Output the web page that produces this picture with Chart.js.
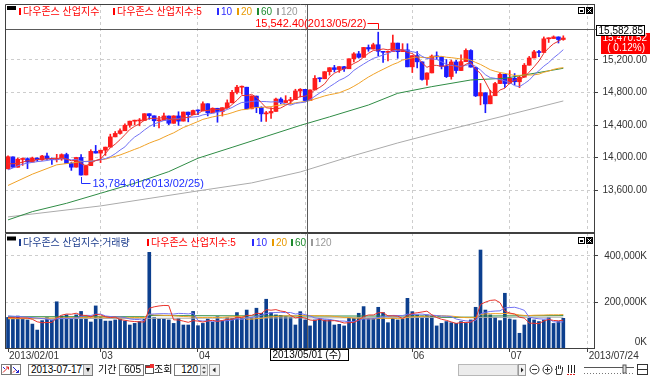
<!DOCTYPE html>
<html>
<head>
<meta charset="utf-8">
<script src="https://cdn.jsdelivr.net/npm/chart.js@4.4.1/dist/chart.umd.min.js"></script>
<style>
body { margin: 0; width: 650px; height: 376px; overflow: hidden; position: relative; background: #fff; }
canvas { position: absolute; left: 0; }
#price { top: 0; }
#volume { top: 233px; }
.ic { position: absolute; top: 364px; }
.fld { position: absolute; top: 364px; height: 10px; border: 1px solid #7a7a7a; background: #fff;
       font: 10px 'Liberation Sans'; line-height: 10px; color: #000; box-sizing: content-box; }
.dd { position: absolute; right: 0; top: 0; width: 8px; height: 10px; background: #e2e2e2; border-left: 1px solid #a0a0a0;
      font-size: 7px; line-height: 10px; text-align: center; }
.lbl { position: absolute; top: 363px; font: 10px 'Noto Sans CJK KR'; line-height: 12px; color: #000; }
</style>
</head>
<body>
<canvas id="price" width="650" height="234"></canvas>
<canvas id="volume" width="650" height="129"></canvas>

<!-- bottom toolbar -->
<svg class="ic" style="left:1px" width="10" height="11"><rect x="0.5" y="0.5" width="9" height="10" fill="#fff" stroke="#7a7a7a"/><path d="M2 8.5L7.5 3M5 3h2.5v2.5" stroke="#d22" fill="none"/><path d="M2 3l2 2" stroke="#22c" fill="none"/></svg>
<svg class="ic" style="left:11px" width="10" height="11"><rect x="0.5" y="0.5" width="9" height="10" fill="#fff" stroke="#7a7a7a"/><path d="M2 3l5.5 5.5M5 8.5h2.5V6" stroke="#22c" fill="none"/><path d="M2 8.5l2-2" stroke="#d22" fill="none"/></svg>
<div class="fld" style="left:28px;width:61px;padding-left:2px">2013-07-17<span class="dd">▼</span></div>
<span class="lbl" style="left:98px">기간</span>
<div class="fld" style="left:119px;width:21px;padding-right:2px;text-align:right">605</div>
<svg class="ic" style="left:145px" width="9" height="11"><rect x="0.5" y="1.5" width="8" height="8" fill="#fff" stroke="#555"/><rect x="1" y="2" width="7" height="2" fill="#c22"/><rect x="5" y="0" width="4" height="4" fill="#e33"/></svg>
<span class="lbl" style="left:154px">조회</span>
<div class="fld" style="left:174px;width:23px;padding-right:2px;text-align:right">120</div>
<svg class="ic" style="left:200px" width="8" height="12"><rect x="0.5" y="0.5" width="7" height="11" fill="#eee" stroke="#aaa"/><path d="M2 4.5h4L4 2.5z M2 7.5h4L4 9.5z" fill="#333"/></svg>
<svg class="ic" style="left:209px" width="11" height="12"><rect x="0.5" y="0.5" width="10" height="11" fill="#f2f2f2" stroke="#999"/><path d="M6.5 3.5v5L3.5 6z" fill="#222"/></svg>
<div class="fld" style="left:458px;width:58px;background:#ececec;border-color:#b8b8b8"></div>
<svg class="ic" style="left:518px" width="8" height="12"><rect x="0.5" y="0.5" width="7" height="11" fill="#f2f2f2" stroke="#999"/><path d="M3 3.5v5L5.5 6z" fill="#222"/></svg>
<svg class="ic" style="left:529px" width="11" height="11"><circle cx="5.5" cy="5.5" r="4.5" fill="#fff" stroke="#333"/><path d="M3 5.5h5" stroke="#333"/></svg>
<svg class="ic" style="left:542px" width="11" height="11"><circle cx="5.5" cy="5.5" r="4.5" fill="#fff" stroke="#333"/><path d="M3 5.5h5M5.5 3v5" stroke="#333"/></svg>
<svg class="ic" style="left:554px" width="10" height="11"><path d="M2.5 10.5V5.5M2.5 5.5V2M4.5 5V1M6.5 5V1.5M8.5 6V3M2.5 6L1 5M2.5 10.5h5l1-4.5" stroke="#333" fill="none"/></svg>
<svg class="ic" style="left:566px" width="11" height="11"><path d="M2.5 1v8M5.5 1v8M8.5 1v8" stroke="#222"/><path d="M1 10.5h9" stroke="#d22" stroke-dasharray="2 1"/></svg>
<svg class="ic" style="left:583px" width="52" height="11"><path d="M1 3.5h50" stroke="#555"/><path d="M1 9.5h50" stroke="#777" stroke-dasharray="1 2"/><rect x="40" y="1" width="3" height="8" fill="#ddd" stroke="#555"/></svg>
<svg class="ic" style="left:637px" width="11" height="11"><rect x="0.5" y="0.5" width="10" height="10" fill="#fff" stroke="#333"/><path d="M1 5.5h9" stroke="#333"/></svg>

<script>
// ---- data (DJIA, 2013/02/01 .. 2013/07/17) ----
const opens = [
  13860.58, 14008, 13880, 13976, 13986, 13944, 13993, 13971, 14019, 13982,
  13973, 13982, 14036, 13927, 13881, 14001, 13785, 13900, 14075, 14054,
  14090, 14128, 14254, 14296, 14329, 14397, 14447, 14450, 14455, 14539,
  14513, 14452, 14456, 14511, 14421, 14512, 14448, 14559, 14527, 14578,
  14573, 14662, 14550, 14606, 14565, 14613, 14673, 14802, 14865, 14865,
  14599, 14756, 14618, 14537, 14548, 14567, 14719, 14676, 14700, 14712,
  14818, 14839, 14701, 14832, 14974, 14969, 15056, 15105, 15083, 15118,
  15092, 15215, 15276, 15233, 15354, 15335, 15388, 15306, 15294, 15304,
  15408, 15303, 15325, 15116, 15254, 15177, 14961, 15041, 15247, 15238,
  15122, 14996, 15176, 15070, 15180, 15317, 15110, 14758, 14797, 14661,
  14760, 14910, 15024, 14911, 14975, 14932, 14989, 15136, 15225, 15300,
  15292, 15461, 15464, 15484, 15452
];
const highs = [
  14019.78, 14008, 13993, 13995, 13996, 14005, 13996, 14027, 14054, 13995,
  14039, 14045, 14053, 13940, 14003, 14036, 13906, 14096, 14149, 14090,
  14128, 14287, 14320, 14354, 14414, 14448, 14460, 14480, 14539, 14539,
  14513, 14508, 14547, 14511, 14514, 14563, 14560, 14559, 14585, 14588,
  14685, 14662, 14611, 14606, 14613.48, 14709, 14826, 14888, 14880, 14865,
  14760, 14756, 14624, 14567, 14612, 14730, 14736, 14761, 14740, 14840,
  14848, 14839, 14832, 15009, 14981, 15057, 15106, 15134, 15118.49, 15121,
  15215.25, 15290, 15306, 15355, 15385, 15407, 15542.40, 15306, 15310, 15507,
  15408, 15401, 15400, 15254.03, 15304, 15177, 15042, 15262, 15300, 15238,
  15206, 15198, 15196, 15265, 15338, 15327, 15110, 14911, 14797, 14828,
  14925, 15040, 15024, 15070, 15033, 14998, 15157, 15244, 15319, 15319,
  15484, 15473, 15497, 15485, 15498
];
const lows = [
  13860.58, 13879, 13880, 13903, 13863, 13944, 13952, 13964, 13976, 13915,
  13945, 13965, 13924, 13841, 13881, 13784.01, 13785, 13900, 14054, 13937,
  14026, 14128, 14254, 14287, 14329, 14372, 14400, 14390, 14455, 14470,
  14382, 14364, 14456, 14404, 14421, 14395, 14448, 14439, 14527, 14528,
  14573, 14512, 14550, 14434, 14510, 14613, 14673, 14784, 14779, 14598,
  14599, 14552, 14444, 14444, 14480, 14567, 14660, 14676, 14659, 14712,
  14745, 14687, 14701, 14832, 14932, 14969, 15014, 15053, 15048, 15058,
  15092, 15175, 15223, 15233, 15307, 15334, 15252, 15170, 15190, 15304,
  15221, 15303, 15115.57, 15046, 15103, 14953, 14889, 15041, 15208, 15090,
  14984, 14964, 15037, 15070, 15180, 15112, 14750, 14648, 14551, 14661,
  14760, 14910, 14862, 14911, 14895, 14860, 14989, 15136, 15225, 15240,
  15292, 15416, 15464, 15409, 15443
];
const closes = [
  14009.79, 13880.08, 13979.30, 13986.52, 13944.05, 13992.97, 13971.24, 14018.70, 13982.91, 13973.39,
  13981.76, 14035.67, 13927.54, 13880.62, 14000.57, 13784.17, 13900.13, 14075.37, 14054.49, 14089.66,
  14127.82, 14253.77, 14296.24, 14329.49, 14397.07, 14447.29, 14450.06, 14455.28, 14539.14, 14514.11,
  14452.06, 14455.82, 14511.73, 14421.49, 14512.03, 14447.75, 14559.65, 14526.16, 14578.54, 14572.85,
  14662.01, 14550.35, 14606.11, 14565.25, 14613.48, 14673.46, 14802.24, 14865.14, 14865.06, 14599.20,
  14756.78, 14618.59, 14537.14, 14547.51, 14567.17, 14719.46, 14676.30, 14700.80, 14712.55, 14818.75,
  14839.80, 14700.95, 14831.58, 14973.96, 14968.89, 15056.20, 15105.12, 15082.62, 15118.49, 15091.68,
  15215.25, 15275.69, 15233.22, 15354.40, 15335.28, 15387.58, 15307.17, 15294.50, 15303.10, 15409.39,
  15302.80, 15324.53, 15115.57, 15254.03, 15177.54, 14960.59, 15040.62, 15248.12, 15238.59, 15122.02,
  14995.23, 15176.08, 15070.18, 15179.85, 15318.23, 15112.19, 14758.32, 14799.40, 14659.56, 14760.31,
  14910.14, 15024.49, 14909.60, 14974.96, 14932.41, 14988.55, 15135.84, 15224.69, 15300.34, 15291.66,
  15460.92, 15464.30, 15484.26, 15451.85, 15470.52
];
// volume in thousands of shares
const volumes = [
  133000, 132000, 139000, 126000, 122000, 104000, 78000, 119000, 132000, 122000,
  201000, 139000, 144000, 128000, 144000, 159000, 132000, 113000, 183000, 133000,
  117000, 117000, 122000, 129000, 117000, 100000, 107000, 115000, 125000, 416000,
  132000, 126000, 126000, 122000, 107000, 129000, 100000, 100000, 159000, 97000,
  107000, 126000, 112000, 136000, 117000, 132000, 129000, 154000, 129000, 165000,
  132000, 173000, 151000, 212000, 154000, 144000, 142000, 136000, 133000, 100000,
  158000, 122000, 96000, 122000, 129000, 122000, 122000, 100000, 103000, 96000,
  129000, 129000, 151000, 180000, 129000, 129000, 177000, 154000, 110000, 129000,
  122000, 126000, 216000, 158000, 144000, 139000, 144000, 139000, 96000, 107000,
  115000, 110000, 107000, 115000, 107000, 122000, 177000, 426000, 165000, 144000,
  133000, 119000, 238000, 126000, 122000, 64000, 100000, 129000, 122000, 115000,
  122000, 133000, 107000, 115000, 129000
];

// moving-average values at the left edge (history before the window)
const ma5Lead = [[0, 13923], [1, 13923], [2, 13928], [3, 13943]];
const ma10Lead = [[0, 13848], [1, 13871], [2, 13898], [3, 13918], [4, 13930], [5, 13940], [6, 13949], [7, 13955], [8, 13963]];
const ma20Lead = [[0, 13656], [5, 13795], [10, 13910], [15, 13948], [18, 13962]];
const ma60Line = [[0, 13232], [5, 13334], [12, 13436], [19, 13560], [26, 13683], [33, 13826], [39, 13991], [46, 14125],
  [53, 14260], [60, 14395], [66, 14500], [74, 14646], [80, 14790], [87, 14872], [95, 14954], [102, 14975], [108, 15036], [114, 15098]];
const ma120Line = [[0, 13269], [19, 13404], [39, 13589], [50, 13687], [60, 13822], [70, 14007], [80, 14179],
  [91, 14351], [101, 14499], [114, 14696]];
const volMa5Lead = [[0, 133000], [2, 131000]];
const volMa10Lead = [[0, 140000], [4, 134000], [8, 126000]];
const volMa20Lead = [[0, 128000], [9, 130000], [18, 134000]];
const volMa60Line = [[0, 136000], [28, 136000], [29, 141000], [60, 139000], [88, 139000], [89, 134000], [96, 134000], [97, 139000], [114, 141000]];
const volMa120Line = [[0, 127000], [60, 131000], [114, 134000]];

const tickIndex = [0, 19, 39, 61, 83, 103, 119];
const tickLabels = ['2013/02/01', '03', '04', '05', '06', '07', '2013/07/24'];
const priceTicks = [13600, 14000, 14400, 14800, 15200];
const volumeTicks = [200000, 400000];

const highDate = '2013/05/22';
const lowDate = '2013/02/25';
const cursorIndex = 61.4;
const cursorPrice = 15582.85;
const cursorDate = '2013/05/01 (수)';

// ---- look ----
const RED = '#ff1c1c', BLUE = '#1c1cff', NAVY = '#0c3f8e';
const C5 = '#e8342c', C10 = '#7272f4', C20 = '#f0a126', C60 = '#2f8c45', C120 = '#ababab';
const GRID = '#cdcdcd', FRAME = '#404040', TXT = '#333';
const X_MIN = -0.62, X_MAX = 120.3;

Chart.defaults.font.family = "'Liberation Sans', 'Noto Sans CJK KR', sans-serif";
Chart.defaults.font.size = 10;

const fmtPrice = v => v.toLocaleString('en-US', {minimumFractionDigits: 2, maximumFractionDigits: 2});
const toPoints = arr => arr.map(p => ({x: p[0], y: p[1]}));

function movingAverage(values, n, lead) {
  const out = toPoints(lead);
  for (let i = n - 1; i < values.length; i++) {
    let s = 0;
    for (let k = i - n + 1; k <= i; k++) s += values[k];
    out.push({x: i, y: s / n});
  }
  return out;
}

const maLine = (data, color) => ({
  type: 'line', data, borderColor: color, borderWidth: 1, pointRadius: 0,
  fill: false, tension: 0, spanGaps: true, order: 1
});

const upDown = c => closes[c.dataIndex] >= opens[c.dataIndex] ? RED : BLUE;
const idx = closes.map((_, i) => i);
const hideFirst = c => (c.tick && c.tick.value === 0) ? 'rgba(0,0,0,0)' : GRID;

function drawLegend(ctx, items, y) {
  ctx.font = "10px 'Liberation Sans', 'Noto Sans CJK KR'";
  ctx.textAlign = 'left';
  ctx.textBaseline = 'middle';
  for (const [x, color, text] of items) {
    ctx.fillStyle = color;
    ctx.fillRect(x, y - 3, 2, 7);
    ctx.fillText(text, x + 4, y + 1);
  }
}

function panelButtons(ctx, y) {
  ctx.fillStyle = '#000';
  ctx.fillRect(578, y, 7, 7);
  ctx.fillStyle = '#fff';
  ctx.fillRect(579, y + 1, 5, 5);
  ctx.fillStyle = '#000';
  ctx.fillRect(580, y + 3, 3, 2);
  ctx.fillRect(586, y, 7, 7);
  ctx.strokeStyle = '#fff';
  ctx.beginPath();
  ctx.moveTo(587.5, y + 1.5); ctx.lineTo(591.5, y + 5.5);
  ctx.moveTo(591.5, y + 1.5); ctx.lineTo(587.5, y + 5.5);
  ctx.stroke();
}

const overlayPrice = {
  id: 'overlayPrice',
  afterDraw(chart) {
    const {ctx, chartArea: a, scales: {x, y}} = chart;
    ctx.save();
    ctx.lineWidth = 1;

    // period high / low markers
    const hi = highs.indexOf(Math.max(...highs));
    const lo = lows.indexOf(Math.min(...lows));
    const hx = Math.round(x.getPixelForValue(hi)) + 0.5, hy = Math.round(y.getPixelForValue(highs[hi]));
    ctx.strokeStyle = '#ff0000';
    ctx.beginPath();
    ctx.moveTo(hx, hy - 2); ctx.lineTo(hx, hy - 8.5); ctx.lineTo(hx - 11, hy - 8.5);
    ctx.stroke();
    ctx.font = "11px 'Liberation Sans'";
    ctx.textBaseline = 'middle';
    ctx.textAlign = 'right';
    ctx.fillStyle = '#ff0000';
    ctx.fillText(fmtPrice(highs[hi]) + '(' + highDate + ')', hx - 12, hy - 8);

    const lx = Math.round(x.getPixelForValue(lo)) + 0.5, ly = Math.round(y.getPixelForValue(lows[lo]));
    ctx.strokeStyle = '#1f2fff';
    ctx.beginPath();
    ctx.moveTo(lx, ly + 2); ctx.lineTo(lx, ly + 8.5); ctx.lineTo(lx + 9, ly + 8.5);
    ctx.stroke();
    ctx.textAlign = 'left';
    ctx.fillStyle = '#1f2fff';
    ctx.fillText(fmtPrice(lows[lo]) + '(' + lowDate + ')', lx + 11, ly + 9);

    // crosshair
    const cx = Math.round(x.getPixelForValue(cursorIndex)) + 0.5;
    const cy = Math.round(y.getPixelForValue(cursorPrice)) + 0.5;
    ctx.strokeStyle = '#5a5a5a';
    ctx.beginPath();
    ctx.moveTo(cx, a.top); ctx.lineTo(cx, a.bottom);
    ctx.moveTo(a.left, cy); ctx.lineTo(a.right + 2, cy);
    ctx.stroke();

    // frame
    ctx.strokeStyle = FRAME;
    ctx.beginPath();
    ctx.moveTo(a.left + 0.5, a.bottom); ctx.lineTo(a.left + 0.5, a.top + 0.5); ctx.lineTo(a.right + 1, a.top + 0.5);
    ctx.moveTo(a.left, a.bottom - 0.5); ctx.lineTo(a.right + 1, a.bottom - 0.5);
    ctx.stroke();

    // last price tag
    const last = closes.length - 1;
    const py = Math.round(y.getPixelForValue(closes[last]));
    const pct = (closes[last] - closes[last - 1]) / closes[last - 1] * 100;
    ctx.fillStyle = '#ff0000';
    ctx.fillRect(601, py - 5, 49, 21);
    ctx.font = "10px 'Liberation Sans'";
    ctx.textAlign = 'right';
    ctx.fillStyle = '#fff';
    ctx.fillText(fmtPrice(closes[last]), 647, py);
    ctx.fillText('( ' + pct.toFixed(2) + '%)', 645, py + 10);

    // cursor value tag
    ctx.fillStyle = '#fff';
    ctx.fillRect(596, cy - 4.5, 49, 11);
    ctx.strokeStyle = '#000';
    ctx.strokeRect(596.5, cy - 4, 48, 10);
    ctx.fillStyle = '#000';
    ctx.fillText(fmtPrice(cursorPrice), 643, cy + 1.5);

    // legend
    ctx.fillStyle = '#000';
    ctx.fillRect(7, 6, 9, 4);
    drawLegend(ctx, [
      [19, '#ff0000', '다우존스 산업지수'],
      [113, '#ff0000', '다우존스 산업지수:5'],
      [217, '#2b2bff', '10'],
      [237, '#e89a00', '20'],
      [257, '#1e8a2e', '60'],
      [277, '#9a9a9a', '120']
    ], 11);
    panelButtons(ctx, 7);
    ctx.restore();
  }
};

const overlayVolume = {
  id: 'overlayVolume',
  afterDraw(chart) {
    const {ctx, chartArea: a, scales: {x, y}} = chart;
    ctx.save();
    ctx.lineWidth = 1;

    ctx.strokeStyle = FRAME;
    ctx.beginPath();
    ctx.moveTo(a.left + 0.5, a.bottom); ctx.lineTo(a.left + 0.5, a.top + 0.5); ctx.lineTo(a.right + 1, a.top + 0.5);
    ctx.stroke();

    const cx = Math.round(x.getPixelForValue(cursorIndex)) + 0.5;
    ctx.strokeStyle = '#5a5a5a';
    ctx.beginPath();
    ctx.moveTo(cx, a.top); ctx.lineTo(cx, a.bottom);
    ctx.stroke();

    // zero label sits just inside the panel
    ctx.font = "10px 'Liberation Sans'";
    ctx.fillStyle = TXT;
    ctx.textAlign = 'right';
    ctx.textBaseline = 'middle';
    ctx.fillText('0K', 647, y.getPixelForValue(0) - 6);

    // cursor date tag
    ctx.fillStyle = '#fff';
    ctx.fillRect(cx - 37, a.bottom + 1, 78, 12);
    ctx.strokeStyle = '#000';
    ctx.strokeRect(cx - 37, a.bottom + 1.5, 78, 11);
    ctx.fillStyle = '#000';
    ctx.textAlign = 'left';
    ctx.font = "10px 'Liberation Sans', 'Noto Sans CJK KR'";
    ctx.fillText(cursorDate, cx - 35, a.bottom + 7.5);

    ctx.fillStyle = '#000';
    ctx.fillRect(7, 3.5, 9, 4);
    drawLegend(ctx, [
      [19, '#1c3c8c', '다우존스 산업지수:거래량'],
      [147, '#ff0000', '다우존스 산업지수:5'],
      [252, '#2b2bff', '10'],
      [272, '#e89a00', '20'],
      [291, '#1e8a2e', '60'],
      [311, '#9a9a9a', '120']
    ], 9);
    panelButtons(ctx, 4);
    ctx.restore();
  }
};

const common = {
  responsive: false, animation: false, devicePixelRatio: 1, events: [],
  plugins: {legend: {display: false}, tooltip: {enabled: false}}
};

new Chart(document.getElementById('price'), {
  type: 'bar',
  data: {
    datasets: [
      maLine(movingAverage(closes, 5, ma5Lead), C5),
      maLine(movingAverage(closes, 10, ma10Lead), C10),
      maLine(movingAverage(closes, 20, ma20Lead), C20),
      maLine(toPoints(ma60Line), C60),
      maLine(toPoints(ma120Line), C120),
      {type: 'bar', data: idx.map(i => ({x: i, y: [lows[i], highs[i]]})), backgroundColor: upDown,
       barThickness: 1, grouped: false, order: 3},
      {type: 'bar', data: idx.map(i => ({x: i, y: [opens[i], closes[i]]})), backgroundColor: upDown,
       barThickness: 4, minBarLength: 1, grouped: false, order: 2}
    ]
  },
  options: {
    ...common,
    layout: {padding: {left: 5, right: 3, top: 4, bottom: 1}},
    scales: {
      x: {
        type: 'linear', min: X_MIN, max: X_MAX, offset: false,
        afterBuildTicks: s => { s.ticks = tickIndex.map(v => ({value: v})); },
        ticks: {display: false},
        grid: {offset: false, color: hideFirst, drawTicks: false},
        border: {display: false, dash: [3, 3]},
        afterFit: s => { s.height = 0; s.paddingLeft = 0; s.paddingRight = 0; }
      },
      y: {
        position: 'right', min: 13070.8, max: 15889.2,
        afterBuildTicks: s => { s.ticks = priceTicks.map(v => ({value: v})); },
        ticks: {callback: v => fmtPrice(v), color: TXT, crossAlign: 'far', padding: 3},
        grid: {color: GRID, tickColor: FRAME, tickLength: 4},
        border: {color: FRAME, dash: [3, 3]},
        afterFit: s => { s.width = 53; s.paddingTop = 0; s.paddingBottom = 0; }
      }
    }
  },
  plugins: [overlayPrice]
});

new Chart(document.getElementById('volume'), {
  type: 'bar',
  data: {
    datasets: [
      maLine(movingAverage(volumes, 5, volMa5Lead), C5),
      maLine(movingAverage(volumes, 10, volMa10Lead), C10),
      maLine(movingAverage(volumes, 20, volMa20Lead), C20),
      maLine(toPoints(volMa60Line), C60),
      maLine(toPoints(volMa120Line), C120),
      {type: 'bar', data: idx.map(i => ({x: i, y: volumes[i]})), backgroundColor: NAVY,
       barThickness: 3, grouped: false, order: 2}
    ]
  },
  options: {
    ...common,
    layout: {padding: {left: 5, right: 3, top: 0, bottom: 0}},
    scales: {
      x: {
        type: 'linear', min: X_MIN, max: X_MAX, offset: false,
        afterBuildTicks: s => { s.ticks = tickIndex.map(v => ({value: v})); },
        ticks: {autoSkip: false, maxRotation: 0, align: 'start', labelOffset: 1, padding: -2,
                color: TXT, callback: (v, i) => tickLabels[i]},
        grid: {offset: false, color: hideFirst, tickColor: FRAME, tickLength: 4},
        border: {color: FRAME, dash: [3, 3]},
        afterFit: s => { s.height = 14; s.paddingLeft = 0; s.paddingRight = 0; }
      },
      y: {
        position: 'right', min: 0, max: 500000,
        afterBuildTicks: s => { s.ticks = volumeTicks.map(v => ({value: v})); },
        ticks: {callback: v => v.toLocaleString('en-US') + 'K', color: TXT, crossAlign: 'far', padding: 3},
        grid: {color: GRID, tickColor: FRAME, tickLength: 4},
        border: {color: FRAME, dash: [3, 3]},
        afterFit: s => { s.width = 53; s.paddingTop = 0; s.paddingBottom = 0; }
      }
    }
  },
  plugins: [overlayVolume]
});
</script>
</body>
</html>
